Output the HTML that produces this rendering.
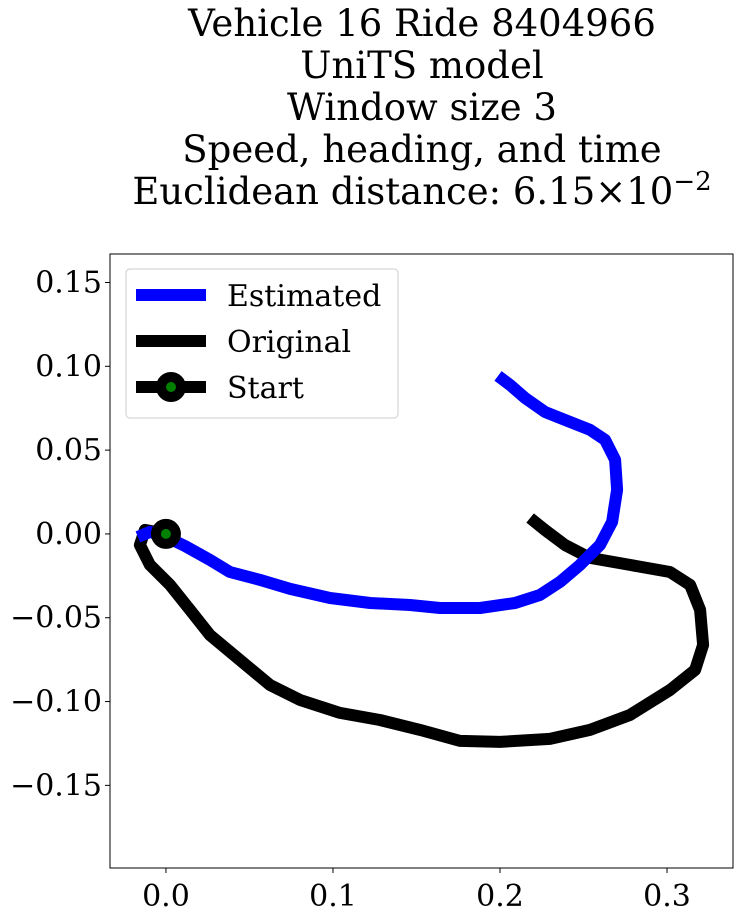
<!DOCTYPE html>
<html><head><meta charset="utf-8"><style>
body{margin:0;background:#fff;}
svg{display:block;font-family:"DejaVu Serif","Liberation Serif",serif;}
</style></head><body>
<svg id="chart" width="738" height="916">
<g font-size="37" text-anchor="middle" fill="#000">
<text x="422" y="36">Vehicle 16 Ride 8404966</text>
<text x="422" y="78">UniTS model</text>
<text x="422" y="120">Window size 3</text>
<text x="422" y="162">Speed, heading, and time</text>
<text x="422" y="204">Euclidean distance: 6.15×10<tspan dy="-14" font-size="26">−2</tspan></text>
</g>
<g id="plot"></g>
</svg>
<script>
const estX=[-0.0168,-0.0096,0,0.0114,0.0263,0.0383,0.0563,0.0743,0.0982,0.1222,0.1461,0.1641,0.1880,0.2090,0.2240,0.2359,0.2479,0.2599,0.2671,0.2701,0.2689,0.2629,0.2539,0.2389,0.2269,0.2150,0.2060,0.1988];
const estY=[-0.0018,0.0012,-0.0018,-0.0072,-0.0155,-0.0227,-0.0274,-0.0328,-0.0382,-0.0412,-0.0424,-0.0442,-0.0442,-0.0412,-0.0364,-0.0286,-0.0185,-0.0066,0.0072,0.0263,0.0442,0.0561,0.0621,0.0680,0.0728,0.0811,0.0889,0.0943];
const origX=[0,-0.0126,-0.0156,-0.0096,0.0024,0.0144,0.0263,0.0443,0.0623,0.0802,0.1042,0.1281,0.1521,0.1760,0.2000,0.2299,0.2539,0.2778,0.3018,0.3168,0.3216,0.3198,0.3138,0.3018,0.2778,0.2539,0.2389,0.2269,0.2180];
const origY=[0,0.0024,-0.0066,-0.0185,-0.0304,-0.0453,-0.0603,-0.0752,-0.0901,-0.0990,-0.1068,-0.1110,-0.1169,-0.1235,-0.1241,-0.1223,-0.1169,-0.1080,-0.0931,-0.0811,-0.0662,-0.0453,-0.0304,-0.0227,-0.0185,-0.0143,-0.0066,0.0024,0.0095];
const xTicks=[0.0,0.1,0.2,0.3];
const xTickLabels=["0.0","0.1","0.2","0.3"];
const yTicks=[0.15,0.10,0.05,0.00,-0.05,-0.10,-0.15];
const yTickLabels=["0.15","0.10","0.05","0.00","−0.05","−0.10","−0.15"];
const L=110,R=733,T=254,B=868;
const xMin=-0.0335,xMax=0.3395,yMin=-0.1993,yMax=0.167;
const sx=v=>L+(v-xMin)/(xMax-xMin)*(R-L);
const sy=v=>B-(v-yMin)/(yMax-yMin)*(B-T);
const NS="http://www.w3.org/2000/svg";
const g=document.getElementById('plot');
function mk(tag,attrs,parent){const e=document.createElementNS(NS,tag);for(const k in attrs)e.setAttribute(k,attrs[k]);(parent||g).appendChild(e);return e;}
const cp=mk('clipPath',{id:'cp'});mk('rect',{x:L,y:T,width:R-L,height:B-T},cp);
function line(xs,ys,color,name){
 const d=xs.map((x,i)=>(i?'L':'M')+sx(x).toFixed(1)+','+sy(ys[i]).toFixed(1)).join('');
 const p=mk('path',{d:d,fill:'none',stroke:color,'stroke-width':12,'stroke-linejoin':'round','clip-path':'url(#cp)'});
 
 
}
line(origX,origY,'#000','original-line');
line(estX,estY,'#0000ff','estimated-line');
const sm=mk('circle',{cx:sx(origX[0]),cy:sy(origY[0]),r:10,fill:'#008000',stroke:'#000','stroke-width':10});


const fr=mk('rect',{x:L,y:T,width:R-L,height:B-T,fill:'none',stroke:'#000','stroke-width':1});


xTicks.forEach((v,i)=>{
 mk('line',{x1:sx(v),x2:sx(v),y1:B,y2:B+5,stroke:'#000'});
 const t=mk('text',{x:sx(v),y:B+38,'font-size':30,'text-anchor':'middle'});t.textContent=xTickLabels[i];
 
 
});
yTicks.forEach((v,i)=>{
 mk('line',{x1:L-5,x2:L,y1:sy(v),y2:sy(v),stroke:'#000'});
 const t=mk('text',{x:L-8,y:sy(v)+10,'font-size':30,'text-anchor':'end'});t.textContent=yTickLabels[i];
 
 
});
const lg=mk('g',{});


mk('rect',{x:126,y:269,width:272,height:149,rx:4,fill:'#fff',stroke:'#ccc'},lg);
const items=[['Estimated','#0000ff',false],['Original','#000',false],['Start','#000',true]];
items.forEach((it,i)=>{
 const y=295+i*46;
 mk('line',{x1:136,x2:206,y1:y,y2:y,stroke:it[1],'stroke-width':12},lg);
 if(it[2])mk('circle',{cx:171,cy:y,r:10,fill:'#008000',stroke:'#000','stroke-width':10},lg);
 const t=mk('text',{x:227,y:y+11,'font-size':30},lg);t.textContent=it[0];
 
 
});
</script>
</body></html>
